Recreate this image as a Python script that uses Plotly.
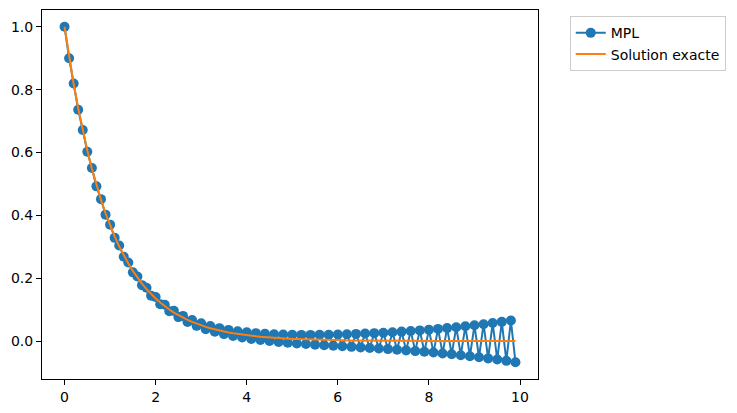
import plotly.graph_objects as go

# temps t_n (pas 0.1)
t = [0.0, 0.1, 0.2, 0.3, 0.4, 0.5, 0.6, 0.7, 0.8, 0.9,
     1.0, 1.1, 1.2, 1.3, 1.4, 1.5, 1.6, 1.7, 1.8, 1.9,
     2.0, 2.1, 2.2, 2.3, 2.4, 2.5, 2.6, 2.7, 2.8, 2.9,
     3.0, 3.1, 3.2, 3.3, 3.4, 3.5, 3.6, 3.7, 3.8, 3.9,
     4.0, 4.1, 4.2, 4.3, 4.4, 4.5, 4.6, 4.7, 4.8, 4.9,
     5.0, 5.1, 5.2, 5.3, 5.4, 5.5, 5.6, 5.7, 5.8, 5.9,
     6.0, 6.1, 6.2, 6.3, 6.4, 6.5, 6.6, 6.7, 6.8, 6.9,
     7.0, 7.1, 7.2, 7.3, 7.4, 7.5, 7.6, 7.7, 7.8, 7.9,
     8.0, 8.1, 8.2, 8.3, 8.4, 8.5, 8.6, 8.7, 8.8, 8.9,
     9.0, 9.1, 9.2, 9.3, 9.4, 9.5, 9.6, 9.7, 9.8, 9.9]

# solution approchée (MPL)
y_mpl = [1.0000, 0.9000, 0.8194, 0.7362, 0.6715, 0.6021, 0.5505, 0.4922, 0.4515, 0.4022,
         0.3704, 0.3284, 0.3042, 0.2680, 0.2500, 0.2185, 0.2056, 0.1778, 0.1694, 0.1445,
         0.1399, 0.1171, 0.1157, 0.0946, 0.0960, 0.0761, 0.0800, 0.0609, 0.0670, 0.0483,
         0.0564, 0.0379, 0.0479, 0.0293, 0.0410, 0.0221, 0.0355, 0.0161, 0.0312, 0.0110,
         0.0277, 0.0068, 0.0251, 0.0031, 0.0230, -0.0001, 0.0216, -0.0029, 0.0206, -0.0053,
         0.0199, -0.0076, 0.0196, -0.0096, 0.0196, -0.0115, 0.0198, -0.0133, 0.0202, -0.0151,
         0.0209, -0.0168, 0.0217, -0.0185, 0.0227, -0.0202, 0.0238, -0.0220, 0.0251, -0.0238,
         0.0266, -0.0257, 0.0282, -0.0277, 0.0300, -0.0298, 0.0319, -0.0320, 0.0339, -0.0343,
         0.0362, -0.0367, 0.0386, -0.0394, 0.0412, -0.0421, 0.0440, -0.0451, 0.0469, -0.0482,
         0.0501, -0.0516, 0.0535, -0.0552, 0.0572, -0.0590, 0.0611, -0.0631, 0.0653, -0.0674]

# solution exacte
y_exact = [1.0000, 0.9048, 0.8187, 0.7408, 0.6703, 0.6065, 0.5488, 0.4966, 0.4493, 0.4066,
           0.3679, 0.3329, 0.3012, 0.2725, 0.2466, 0.2231, 0.2019, 0.1827, 0.1653, 0.1496,
           0.1353, 0.1225, 0.1108, 0.1003, 0.0907, 0.0821, 0.0743, 0.0672, 0.0608, 0.0550,
           0.0498, 0.0450, 0.0408, 0.0369, 0.0334, 0.0302, 0.0273, 0.0247, 0.0224, 0.0202,
           0.0183, 0.0166, 0.0150, 0.0136, 0.0123, 0.0111, 0.0101, 0.0091, 0.0082, 0.0074,
           0.0067, 0.0061, 0.0055, 0.0050, 0.0045, 0.0041, 0.0037, 0.0033, 0.0030, 0.0027,
           0.0025, 0.0022, 0.0020, 0.0018, 0.0017, 0.0015, 0.0014, 0.0012, 0.0011, 0.0010,
           0.0009, 0.0008, 0.0007, 0.0007, 0.0006, 0.0006, 0.0005, 0.0005, 0.0004, 0.0004,
           0.0003, 0.0003, 0.0003, 0.0002, 0.0002, 0.0002, 0.0002, 0.0002, 0.0002, 0.0001,
           0.0001, 0.0001, 0.0001, 0.0001, 0.0001, 0.0001, 0.0001, 0.0001, 0.0001, 0.0000]

fig = go.Figure()

fig.add_trace(go.Scatter(x=t, y=y_mpl, mode="lines+markers", name="MPL",
                         line=dict(color="#1f77b4", width=2),
                         marker=dict(color="#1f77b4", size=10)))
fig.add_trace(go.Scatter(x=t, y=y_exact, mode="lines", name="Solution exacte",
                         line=dict(color="#ff7f0e", width=2)))

axis_style = dict(showgrid=False, zeroline=False, showline=True, mirror=True,
                  linecolor="black", linewidth=1, ticks="outside", ticklen=5,
                  tickcolor="black", tickfont=dict(size=14, color="black"))

fig.update_xaxes(range=[-0.495, 10.395], tickvals=[0, 2, 4, 6, 8, 10], **axis_style)
fig.update_yaxes(range=[-0.1208, 1.0534], tickvals=[0, 0.2, 0.4, 0.6, 0.8, 1.0],
                 tickformat=".1f", **axis_style)

# la page ajoute une marge de 8 px autour de la figure
fig.update_layout(
    width=729, height=405,
    margin=dict(l=34, r=199, t=2, b=34),
    plot_bgcolor="white", paper_bgcolor="white",
    font=dict(family="DejaVu Sans", size=14, color="black"),
    showlegend=True,
    legend=dict(x=1.064, y=0.983, xanchor="left", yanchor="top",
                bordercolor="#cccccc", borderwidth=1, bgcolor="white",
                font=dict(size=14), tracegroupgap=0),
)

fig.write_html("out.html")
